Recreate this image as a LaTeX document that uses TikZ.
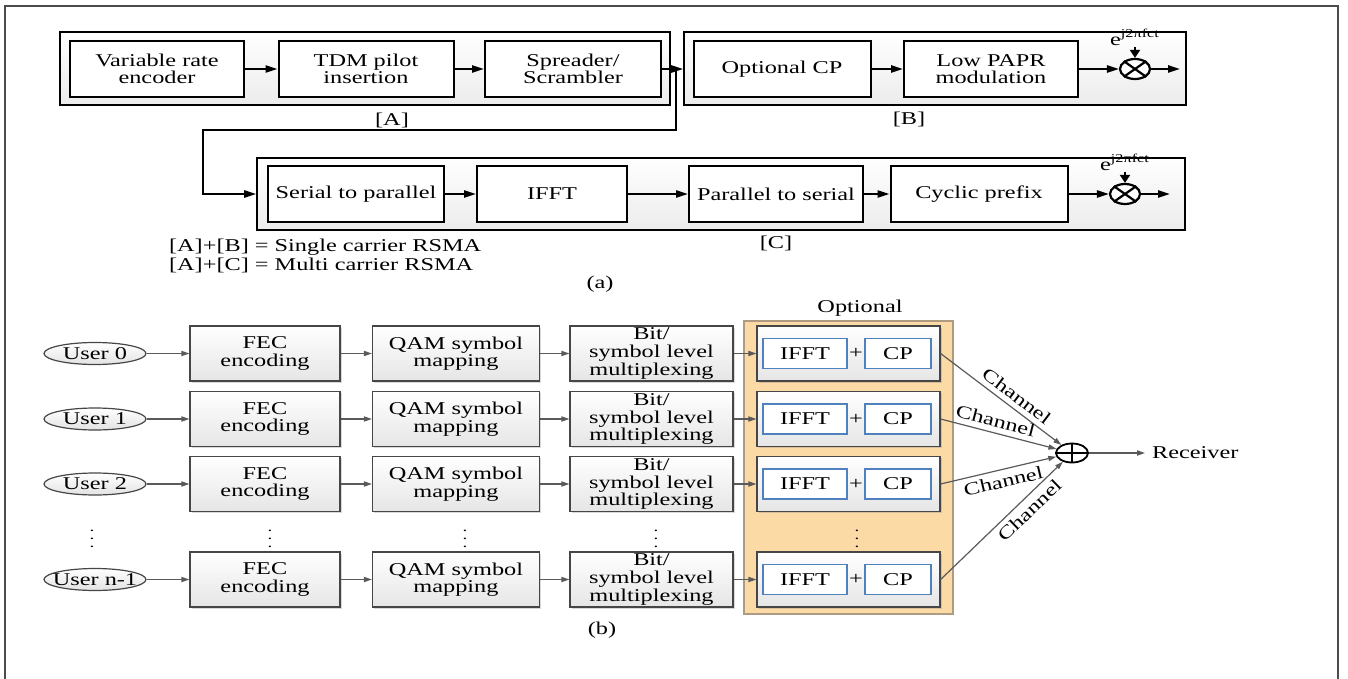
\documentclass[tikz,border=0pt]{standalone}
\usepackage{fontspec}
\setmainfont{Liberation Serif}[FakeStretch=1.35]
\usepackage{tikz}
\usetikzlibrary{arrows.meta,shapes.geometric,shadows}

\definecolor{optfill}{RGB}{252,218,166}
\definecolor{optline}{RGB}{175,155,130}
\definecolor{inline}{RGB}{79,129,189}
\definecolor{gline}{RGB}{90,90,90}

\newcommand{\uname}[1]{\hbox to 0pt{\hss #1\hss}}

\tikzset{
    frm/.style={draw=gray!60!black, line width=0.7pt},
    grp/.style={draw, line width=0.8pt, top color=white, bottom color=gray!15, inner sep=0pt},
    blk/.style={draw, line width=1pt, fill=white, align=center, inner sep=0pt, minimum height=28pt},
    mix/.style={ellipse, draw, line width=1.1pt, fill=white, inner sep=0pt, minimum width=15pt, minimum height=10pt},
    car/.style={inner sep=0.5pt, anchor=south},
    arr/.style={line width=1pt, -{Triangle[length=6pt,width=3.6pt]}},
    varr/.style={line width=1pt, -{Triangle[length=4pt,width=5pt]}},
    opt/.style={draw=optline, line width=0.8pt, fill=optfill, inner sep=0pt},
    gbox/.style={draw=gray!55!black, line width=0.6pt, top color=white, bottom color=gray!20,
        drop shadow={shadow xshift=0.8pt, shadow yshift=-0.8pt, opacity=0.3},
        align=center, inner sep=0pt, minimum height=27.5pt},
    ibox/.style={draw=inline, line width=0.6pt, fill=white, inner sep=0pt, minimum height=15pt},
    usr/.style={ellipse, draw=gray!55!black, line width=0.6pt, top color=white, bottom color=gray!22,
        inner sep=0pt, minimum width=51pt, minimum height=11pt},
    adder/.style={ellipse, draw, line width=0.9pt, inner sep=0pt, minimum width=16pt, minimum height=9.5pt},
    garr/.style={draw=gline, line width=0.6pt, -{Triangle[length=4pt,width=2.6pt]}},
    chl/.style={inner sep=2.5pt},
    dts/.style={inner sep=0pt, font=\fontsize{7}{7}\selectfont}
}

\begin{document}
\begin{tikzpicture}[x=0.5pt, y=-0.5pt, font=\fontsize{9}{8.8}\selectfont]
    \useasboundingbox (0,0) rectangle (1348,679);
    \draw[frm] (5,679) -- (5,6) -- (1338,6) -- (1338,679);

    % (a) groups
    \node[grp, minimum width=305pt, minimum height=36.5pt] (grpA) at (365,68.5) {};
    \node[grp, minimum width=251pt, minimum height=36.5pt] (grpB) at (935,68.5) {};
    \node[grp, minimum width=464pt, minimum height=36pt] (grpC) at (721,194) {};
    \node (labA) at (392,120) {[A]};
    \node (labB) at (909,119) {[B]};
    \node (labC) at (776,243) {[C]};

    % [A] and [B]
    \node[blk, minimum width=87pt] (vre) at (157,69) {Variable rate\\encoder};
    \node[blk, minimum width=87.5pt] (tdm) at (366,69) {TDM pilot\\insertion};
    \node[blk, minimum width=88pt] (spr) at (573,69) {Spreader/\\Scrambler};
    \node[blk, minimum width=88.5pt] (ocp) at (782,69) {Optional CP};
    \node[blk, minimum width=87pt] (lpm) at (991,69) {Low PAPR\\modulation};
    \node[mix] (mixB) at (1135,69) {};
    \node[car] (carB) at (1135,47) {e\textsuperscript{j2πfct}};
    \coordinate (outB) at (1180,69);
    \draw[line width=1.1pt] (mixB.35) -- (mixB.215) (mixB.145) -- (mixB.325);

    % [C]
    \node[blk, minimum width=88pt] (s2p) at (356,194) {Serial to parallel};
    \node[blk, minimum width=75pt] (ifft) at (552,194) {IFFT};
    \node[blk, minimum width=87pt] (p2s) at (776,194) {Parallel to serial};
    \node[blk, minimum width=88.5pt] (cpx) at (979,194) {Cyclic prefix};
    \node[mix] (mixC) at (1125,194) {};
    \node[car] (carC) at (1125,172) {e\textsuperscript{j2πfct}};
    \coordinate (outC) at (1170,194);
    \draw[line width=1.1pt] (mixC.35) -- (mixC.215) (mixC.145) -- (mixC.325);

    \coordinate (jn) at (676,69);
    \coordinate (bnd) at (203,130);

    \draw[arr] (vre) -- (tdm);
    \draw[arr] (tdm) -- (spr);
    \draw[arr] (spr) -- (spr -| grpB.west);
    \draw[arr] (ocp) -- (lpm);
    \draw[arr] (lpm) -- (mixB);
    \draw[arr] (mixB) -- (outB);
    \draw[varr] (carB) -- (mixB);
    \draw[arr] (jn) |- (bnd) |- (grpC.west |- s2p);
    \draw[arr] (s2p) -- (ifft);
    \draw[arr] (ifft) -- (p2s);
    \draw[arr] (p2s) -- (cpx);
    \draw[arr] (cpx) -- (mixC);
    \draw[arr] (mixC) -- (outC);
    \draw[varr] (carC) -- (mixC);

    \node[anchor=west] (eqB) at (162,247) {[A]+[B] = Single carrier RSMA};
    \node[anchor=west] (eqC) at (162,265) {[A]+[C] = Multi carrier RSMA};
    \node (capA) at (600,284) {(a)};

    % (b) per user chains
    \node (optl) at (860,308) {Optional};
    \node[opt, minimum width=104.5pt, minimum height=146.5pt] (optbox) at (848.5,467.5) {};

    \node[usr] (u0) at (95,353.5) {\uname{User 0}};
    \node[gbox, minimum width=75pt] (fec0) at (265,353.5) {FEC\\encoding};
    \node[gbox, minimum width=83.5pt] (qam0) at (456,353.5) {QAM symbol\\mapping};
    \node[gbox, minimum width=81.5pt] (bit0) at (651.5,353.5) {Bit/\\symbol level\\multiplexing};
    \node[gbox, minimum width=91.5pt] (ofd0) at (848.5,353.5) {};
    \node[ibox, minimum width=42pt] (if0) at (805,353.5) {IFFT};
    \node[ibox, minimum width=33pt] (cp0) at (898,353.5) {CP};
    \node (pl0) at (856,353.5) {+};

    \node[usr] (u1) at (95,419) {\uname{User 1}};
    \node[gbox, minimum width=75pt] (fec1) at (265,419) {FEC\\encoding};
    \node[gbox, minimum width=83.5pt] (qam1) at (456,419) {QAM symbol\\mapping};
    \node[gbox, minimum width=81.5pt] (bit1) at (651.5,419) {Bit/\\symbol level\\multiplexing};
    \node[gbox, minimum width=91.5pt] (ofd1) at (848.5,419) {};
    \node[ibox, minimum width=42pt] (if1) at (805,419) {IFFT};
    \node[ibox, minimum width=33pt] (cp1) at (898,419) {CP};
    \node (pl1) at (856,419) {+};

    \node[usr] (u2) at (95,484) {\uname{User 2}};
    \node[gbox, minimum width=75pt] (fec2) at (265,484) {FEC\\encoding};
    \node[gbox, minimum width=83.5pt] (qam2) at (456,484) {QAM symbol\\mapping};
    \node[gbox, minimum width=81.5pt] (bit2) at (651.5,484) {Bit/\\symbol level\\multiplexing};
    \node[gbox, minimum width=91.5pt] (ofd2) at (848.5,484) {};
    \node[ibox, minimum width=42pt] (if2) at (805,484) {IFFT};
    \node[ibox, minimum width=33pt] (cp2) at (898,484) {CP};
    \node (pl2) at (856,484) {+};

    \node[dts] (dtU) at (92,533) {$\vdots$};
    \node[dts] (dtF) at (270,533) {$\vdots$};
    \node[dts] (dtQ) at (465,533) {$\vdots$};
    \node[dts] (dtB) at (656,533) {$\vdots$};
    \node[dts] (dtO) at (857,533) {$\vdots$};

    \node[usr] (u3) at (95,579.5) {\uname{User n-1}};
    \node[gbox, minimum width=75pt] (fec3) at (265,579.5) {FEC\\encoding};
    \node[gbox, minimum width=83.5pt] (qam3) at (456,579.5) {QAM symbol\\mapping};
    \node[gbox, minimum width=81.5pt] (bit3) at (651.5,579.5) {Bit/\\symbol level\\multiplexing};
    \node[gbox, minimum width=91.5pt] (ofd3) at (848.5,579.5) {};
    \node[ibox, minimum width=42pt] (if3) at (805,579.5) {IFFT};
    \node[ibox, minimum width=33pt] (cp3) at (898,579.5) {CP};
    \node (pl3) at (856,579.5) {+};

    \node[adder] (add) at (1072,453) {};
    \draw[line width=0.9pt] (add.north) -- (add.south) (add.west) -- (add.east);
    \node[anchor=west] (rcv) at (1145,453) {Receiver};

    \draw[garr] (u0) -- (fec0);
    \draw[garr] (fec0) -- (qam0);
    \draw[garr] (qam0) -- (bit0);
    \draw[garr] (bit0) -- (ofd0);
    \draw[garr] (u1) -- (fec1);
    \draw[garr] (fec1) -- (qam1);
    \draw[garr] (qam1) -- (bit1);
    \draw[garr] (bit1) -- (ofd1);
    \draw[garr] (u2) -- (fec2);
    \draw[garr] (fec2) -- (qam2);
    \draw[garr] (qam2) -- (bit2);
    \draw[garr] (bit2) -- (ofd2);
    \draw[garr] (u3) -- (fec3);
    \draw[garr] (fec3) -- (qam3);
    \draw[garr] (qam3) -- (bit3);
    \draw[garr] (bit3) -- (ofd3);

    \draw[garr] (ofd0.east) -- node[chl, pos=0.57, sloped, above] {Channel} (add);
    \draw[garr] (ofd1.east) -- node[chl, pos=0.45, sloped, above] {Channel} (add);
    \draw[garr] (ofd2.east) -- node[chl, pos=0.52, sloped, below] {Channel} (add);
    \draw[garr] (ofd3.east) -- node[chl, pos=0.66, sloped, below] {Channel} (add);
    \draw[garr] (add) -- (rcv);

    \node (capB) at (602,630) {(b)};
\end{tikzpicture}
\end{document}
